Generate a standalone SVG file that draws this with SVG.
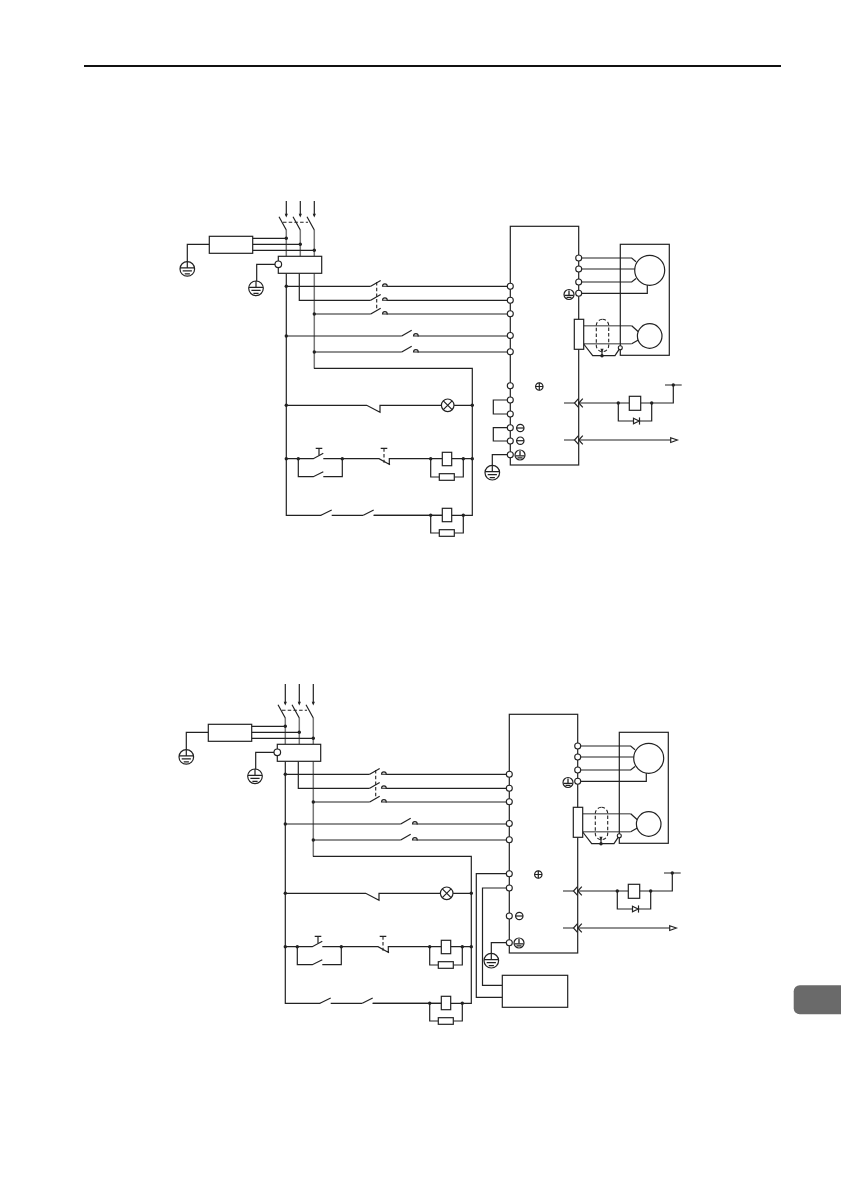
<svg xmlns="http://www.w3.org/2000/svg" width="841" height="1191" viewBox="0 0 841 1191">
<style>
.w{fill:none;stroke:#222;stroke-width:1.2}
.g{fill:none;stroke:#777;stroke-width:1.5}
.d{fill:none;stroke:#222;stroke-width:1.1;stroke-dasharray:3.5 2.2}
.b{fill:#fff;stroke:#222;stroke-width:1.2}
.t{fill:#fff;stroke:#222;stroke-width:1.1}
.f{fill:#222;stroke:none}
</style>
<defs>
<g id="ground"><circle class="b" r="7.3"/><path class="w" d="M0 -7.3V-1M-7.3 -1H7.3M-4.6 2H4.6M-2.6 5H2.6"/></g>
<g id="fg"><circle class="b" r="5"/><path d="M0 -4V0.6" stroke="#222" stroke-width="1.3"/><path d="M-4.5 0.8H4.5M-2.5 2.8H2.5" stroke="#222" stroke-width="1.3"/></g>
<g id="plus"><circle class="b" r="3.7"/><path class="w" d="M-3.7 0H3.7M0 -3.7V3.7"/></g>
<g id="minus"><circle class="b" r="3.7"/><path class="w" d="M-3.7 0H3.7"/></g>
<circle id="term" class="t" r="3"/>
<circle id="dot" class="f" r="1.7"/>
<path id="tip" class="f" d="M-1.6 -2.2H1.6L0 1.5Z"/>
<g id="no"><path class="w" d="M0 0L10 -5.7"/><path class="t" d="M11.8 0a2.4 2.4 0 0 1 4.8 0Z"/></g>
<g id="chev"><path class="w" d="M4 -4.3L0 0L4 4.3M8.3 -4.3L4.3 0L8.3 4.3"/></g>
<g id="coil"><rect class="b" x="0" y="0" width="9.4" height="13.4"/></g>
<g id="res"><rect class="b" x="0" y="0" width="15" height="6.6"/></g>
<g id="lamp"><circle class="b" r="6.3"/><path class="w" d="M-4.4 -4.4L4.4 4.4M-4.4 4.4L4.4 -4.4"/></g>
<g id="pb"><path class="w" d="M-2.7 0.8V0H2.7V0.8M0 0V7"/></g>
<g id="diode"><path class="b" d="M0 -2.8L5.6 0L0 2.8Z"/><path class="w" d="M6 -3.6V3.6"/></g>
</defs>

<g id="page-rule"><path d="M84 66H781" stroke="#111" stroke-width="2" fill="none"/></g>
<g id="page-tab"><rect x="793.7" y="985.3" width="60" height="29" rx="6" fill="#6a6a6a"/></g>

<g id="connectors-1">
<path class="w" d="M286.3 201V216M300.3 201V216M314.3 201V216M279 216.7L286.3 230M293 216.7L300.3 230M307 216.7L314.3 230"/>
<path class="g" d="M286.3 230V256.3M300.3 230V256.3M314.3 230V256.3M314.3 273.3V368.3"/>
<path class="d" d="M283 222.3H308M376.7 282V311"/>
<path class="w" d="M252.7 238.3H286.3M252.7 244.3H300.3M252.7 250.3H314.3M209.3 244.3H187.3V262M275 264.3H256.7V281"/>
<path class="w" d="M286.3 273.3V515.3H321.3M299.3 273.3V300.3H370.7M313.9 368.3H472.3V515.3H373.7M363.3 515.3H331.7"/>
<path class="w" d="M286.3 286.3H370.7M386.5 286.3H510.3M386.5 300.3H510.3M386.5 314H510.3M314.3 314H370.7M286.3 336H401.7M417.5 336H510.3M314.3 352H401.7M417.5 352H510.3"/>
<path class="w" d="M286.3 405.3H366.7L380 412.3V405.3H441.4M454 405.3H472.3"/>
<path class="w" d="M286.3 458.7H313.3L323.3 453.3M323.3 458.7H379L390 464.7M389.3 464V458.7H442.3M451.7 458.7H472.3M298.3 458.7V476.7H313.3L323.3 471.7M323.3 476.7H342.3V458.7M430.7 458.7V477H439.3M454.3 477H463.3V458.7"/>
<path class="w" d="M321 515.3L331.7 510M363.3 515.3L373.7 510M373.7 515.3H442.3M430.7 515.3V533H439.3M454.3 533H463.3V515.3"/>
<path class="w" d="M582 258H631.7L636 261.7M582 269H635M582 282H631.7L636 278.5M582 293.3H647.3V285"/>
<path class="g" d="M583.7 325.7H631.7M583.7 343.7H631.7"/>
<path class="w" d="M631.7 325.7L638.3 331.7M631.7 343.7L638.3 340M583.7 344L592.7 355.7H615L620.3 347.7M602 355.7V350"/>
<path class="w" d="M564 403H574.5M578.8 403H629.3M640.7 403H673.3V385M665 385H681.7M618.3 403V421H633.3M639.3 421H651.7V403M564 440H574.5M578.8 440H670.7"/>
<path class="w" d="M507.3 400H493.3V414H507.3M507.3 427.7H493.3V441H507.3M507.3 454.7H492.3V466"/>
</g>

<g id="filter-1"><rect class="b" x="209.3" y="236.3" width="43.4" height="17"/></g>
<g id="ground-1a"><use href="#ground" x="187.3" y="268.9"/></g>
<g id="breaker-1"><rect class="b" x="278.3" y="256.3" width="43.4" height="17"/><circle class="b" cx="278.3" cy="264.3" r="3.3"/></g>
<g id="ground-1b"><use href="#ground" x="256" y="288.3"/></g>
<g id="phase-1">
<use href="#tip" x="286.3" y="216"/><use href="#tip" x="300.3" y="216"/><use href="#tip" x="314.3" y="216"/>
<use href="#dot" x="286.3" y="238.3"/><use href="#dot" x="300.3" y="244.3"/><use href="#dot" x="314.3" y="250.3"/>
<use href="#dot" x="286.3" y="286.3"/><use href="#dot" x="314.3" y="314"/><use href="#dot" x="286.3" y="336"/><use href="#dot" x="314.3" y="352"/>
</g>
<g id="contactor-1">
<use href="#no" x="370.7" y="286.3"/><use href="#no" x="370.7" y="300.3"/><use href="#no" x="370.7" y="314"/>
<use href="#no" x="401.7" y="336"/><use href="#no" x="401.7" y="352"/>
</g>
<g id="drive-1">
<rect x="510.3" y="226.3" width="68.4" height="238.7" fill="none" stroke="#222" stroke-width="1.2"/>
<use href="#term" x="510.3" y="286.3"/><use href="#term" x="510.3" y="300.3"/><use href="#term" x="510.3" y="313.7"/><use href="#term" x="510.3" y="335.5"/><use href="#term" x="510.3" y="351.7"/><use href="#term" x="510.3" y="385.7"/><use href="#term" x="510.3" y="400"/><use href="#term" x="510.3" y="414"/><use href="#term" x="510.3" y="427.7"/><use href="#term" x="510.3" y="441"/><use href="#term" x="510.3" y="454.7"/>
<use href="#term" x="578.7" y="258"/><use href="#term" x="578.7" y="269"/><use href="#term" x="578.7" y="282"/><use href="#term" x="578.7" y="293.3"/>
<use href="#fg" x="569" y="294.5"/><use href="#plus" x="539.3" y="386.5"/><use href="#minus" x="520.3" y="428"/><use href="#minus" x="520.3" y="440.7"/><use href="#fg" x="520" y="455"/>
<rect class="b" x="574.3" y="319.3" width="9.4" height="30"/>
<use href="#chev" x="574.5" y="403"/><use href="#chev" x="574.5" y="440"/>
</g>
<g id="ground-1c"><use href="#ground" x="492.3" y="472.7"/></g>
<g id="motor-1">
<rect x="620.3" y="244.3" width="49" height="111" fill="none" stroke="#222" stroke-width="1.2"/>
<circle class="b" cx="649.7" cy="270.3" r="15"/><circle class="b" cx="649.7" cy="336" r="12.3"/>
<circle class="t" cx="620.3" cy="347.7" r="2"/>
<rect class="d" x="596.3" y="319.3" width="12.4" height="32.4" rx="6.2"/>
<use href="#dot" x="602" y="355.7"/><use href="#tip" x="602" y="351"/>
</g>
<g id="relay-1">
<rect class="b" x="629.3" y="396.3" width="11.4" height="14"/><use href="#dot" x="618.3" y="403"/><use href="#dot" x="651.7" y="403"/><use href="#dot" x="673.3" y="385"/><use href="#diode" x="633.5" y="421"/>
<path class="b" d="M670.7 437.7L677.3 440L670.7 442.5Z"/>
</g>
<g id="control-1">
<use href="#lamp" x="447.7" y="405.3"/><use href="#dot" x="286.3" y="405.3"/><use href="#dot" x="472.3" y="405.3"/>
<use href="#dot" x="286.3" y="458.7"/><use href="#dot" x="298.3" y="458.7"/><use href="#dot" x="342.3" y="458.7"/><use href="#dot" x="430.7" y="458.7"/><use href="#dot" x="463.3" y="458.7"/><use href="#dot" x="472.3" y="458.7"/>
<use href="#pb" x="319" y="448.3"/><path class="d" d="M384 448.3V462.7"/><path class="w" d="M381.3 449V448.3H386.7V449"/>
<use href="#coil" x="442.3" y="452.3"/><use href="#res" x="439.3" y="473.7"/>
<use href="#dot" x="430.7" y="515.3"/><use href="#dot" x="463.3" y="515.3"/>
<use href="#coil" x="442.3" y="508.3"/><use href="#res" x="439.3" y="529.7"/>
</g>

<g id="connectors-2" transform="translate(-1 488)">
<path class="w" d="M286.3 196V216M300.3 196V216M314.3 196V216M279 216.7L286.3 230M293 216.7L300.3 230M307 216.7L314.3 230"/>
<path class="g" d="M286.3 230V256.3M300.3 230V256.3M314.3 230V256.3M314.3 273.3V368.3"/>
<path class="d" d="M283 222.3H308M376.7 282V311"/>
<path class="w" d="M252.7 238.3H286.3M252.7 244.3H300.3M252.7 250.3H314.3M209.3 244.3H187.3V262M275 264.3H256.7V281"/>
<path class="w" d="M286.3 273.3V515.3H321.3M299.3 273.3V300.3H370.7M313.9 368.3H472.3V515.3H373.7M363.3 515.3H331.7"/>
<path class="w" d="M286.3 286.3H370.7M386.5 286.3H510.3M386.5 300.3H510.3M386.5 314H510.3M314.3 314H370.7M286.3 336H401.7M417.5 336H510.3M314.3 352H401.7M417.5 352H510.3"/>
<path class="w" d="M286.3 405.3H366.7L380 412.3V405.3H441.4M454 405.3H472.3"/>
<path class="w" d="M286.3 458.7H313.3L323.3 453.3M323.3 458.7H379L390 464.7M389.3 464V458.7H442.3M451.7 458.7H472.3M298.3 458.7V476.7H313.3L323.3 471.7M323.3 476.7H342.3V458.7M430.7 458.7V477H439.3M454.3 477H463.3V458.7"/>
<path class="w" d="M321 515.3L331.7 510M363.3 515.3L373.7 510M373.7 515.3H442.3M430.7 515.3V533H439.3M454.3 533H463.3V515.3"/>
<path class="w" d="M582 258H631.7L636 261.7M582 269H635M582 282H631.7L636 278.5M582 293.3H647.3V285"/>
<path class="g" d="M583.7 325.7H631.7M583.7 343.7H631.7"/>
<path class="w" d="M631.7 325.7L638.3 331.7M631.7 343.7L638.3 340M583.7 344L592.7 355.7H615L620.3 347.7M602 355.7V350"/>
<path class="w" d="M564 403H574.5M578.8 403H629.3M640.7 403H673.3V385M665 385H681.7M618.3 403V421H633.3M639.3 421H651.7V403M564 440H574.5M578.8 440H670.7"/>
<path class="w" d="M507.3 385.7H477.3V509.3H503.3M507.3 400H483.5V497.3H503.3M507.3 454.7H492.3V466"/>
</g>

<g id="filter-2" transform="translate(-1 488)"><rect class="b" x="209.3" y="236.3" width="43.4" height="17"/></g>
<g id="ground-2a" transform="translate(-1 488)"><use href="#ground" x="187.3" y="268.9"/></g>
<g id="breaker-2" transform="translate(-1 488)"><rect class="b" x="278.3" y="256.3" width="43.4" height="17"/><circle class="b" cx="278.3" cy="264.3" r="3.3"/></g>
<g id="ground-2b" transform="translate(-1 488)"><use href="#ground" x="256" y="288.3"/></g>
<g id="phase-2" transform="translate(-1 488)">
<use href="#tip" x="286.3" y="216"/><use href="#tip" x="300.3" y="216"/><use href="#tip" x="314.3" y="216"/>
<use href="#dot" x="286.3" y="238.3"/><use href="#dot" x="300.3" y="244.3"/><use href="#dot" x="314.3" y="250.3"/>
<use href="#dot" x="286.3" y="286.3"/><use href="#dot" x="314.3" y="314"/><use href="#dot" x="286.3" y="336"/><use href="#dot" x="314.3" y="352"/>
</g>
<g id="contactor-2" transform="translate(-1 488)">
<use href="#no" x="370.7" y="286.3"/><use href="#no" x="370.7" y="300.3"/><use href="#no" x="370.7" y="314"/>
<use href="#no" x="401.7" y="336"/><use href="#no" x="401.7" y="352"/>
</g>
<g id="drive-2" transform="translate(-1 488)">
<rect x="510.3" y="226.3" width="68.4" height="238.7" fill="none" stroke="#222" stroke-width="1.2"/>
<use href="#term" x="510.3" y="286.3"/><use href="#term" x="510.3" y="300.3"/><use href="#term" x="510.3" y="313.7"/><use href="#term" x="510.3" y="335.5"/><use href="#term" x="510.3" y="351.7"/><use href="#term" x="510.3" y="385.7"/><use href="#term" x="510.3" y="400"/><use href="#term" x="510.3" y="428"/><use href="#term" x="510.3" y="454.7"/>
<use href="#term" x="578.7" y="258"/><use href="#term" x="578.7" y="269"/><use href="#term" x="578.7" y="282"/><use href="#term" x="578.7" y="293.3"/>
<use href="#fg" x="569" y="294.5"/><use href="#plus" x="539.3" y="386.5"/><use href="#minus" x="520.3" y="428"/><use href="#fg" x="520" y="455"/>
<rect class="b" x="574.3" y="319.3" width="9.4" height="30"/>
<use href="#chev" x="574.5" y="403"/><use href="#chev" x="574.5" y="440"/>
</g>
<g id="ground-2c" transform="translate(-1 488)"><use href="#ground" x="492.3" y="472.7"/></g>
<g id="motor-2" transform="translate(-1 488)">
<rect x="620.3" y="244.3" width="49" height="111" fill="none" stroke="#222" stroke-width="1.2"/>
<circle class="b" cx="649.7" cy="270.3" r="15"/><circle class="b" cx="649.7" cy="336" r="12.3"/>
<circle class="t" cx="620.3" cy="347.7" r="2"/>
<rect class="d" x="596.3" y="319.3" width="12.4" height="32.4" rx="6.2"/>
<use href="#dot" x="602" y="355.7"/><use href="#tip" x="602" y="351"/>
</g>
<g id="relay-2" transform="translate(-1 488)">
<rect class="b" x="629.3" y="396.3" width="11.4" height="14"/><use href="#dot" x="618.3" y="403"/><use href="#dot" x="651.7" y="403"/><use href="#dot" x="673.3" y="385"/><use href="#diode" x="633.5" y="421"/>
<path class="b" d="M670.7 437.7L677.3 440L670.7 442.5Z"/>
</g>
<g id="control-2" transform="translate(-1 488)">
<use href="#lamp" x="447.7" y="405.3"/><use href="#dot" x="286.3" y="405.3"/><use href="#dot" x="472.3" y="405.3"/>
<use href="#dot" x="286.3" y="458.7"/><use href="#dot" x="298.3" y="458.7"/><use href="#dot" x="342.3" y="458.7"/><use href="#dot" x="430.7" y="458.7"/><use href="#dot" x="463.3" y="458.7"/><use href="#dot" x="472.3" y="458.7"/>
<use href="#pb" x="319" y="448.3"/><path class="d" d="M384 448.3V462.7"/><path class="w" d="M381.3 449V448.3H386.7V449"/>
<use href="#coil" x="442.3" y="452.3"/><use href="#res" x="439.3" y="473.7"/>
<use href="#dot" x="430.7" y="515.3"/><use href="#dot" x="463.3" y="515.3"/>
<use href="#coil" x="442.3" y="508.3"/><use href="#res" x="439.3" y="529.7"/>
</g>
<g id="regen-unit"><rect class="b" x="502.3" y="975.3" width="65.4" height="32"/></g>
</svg>
